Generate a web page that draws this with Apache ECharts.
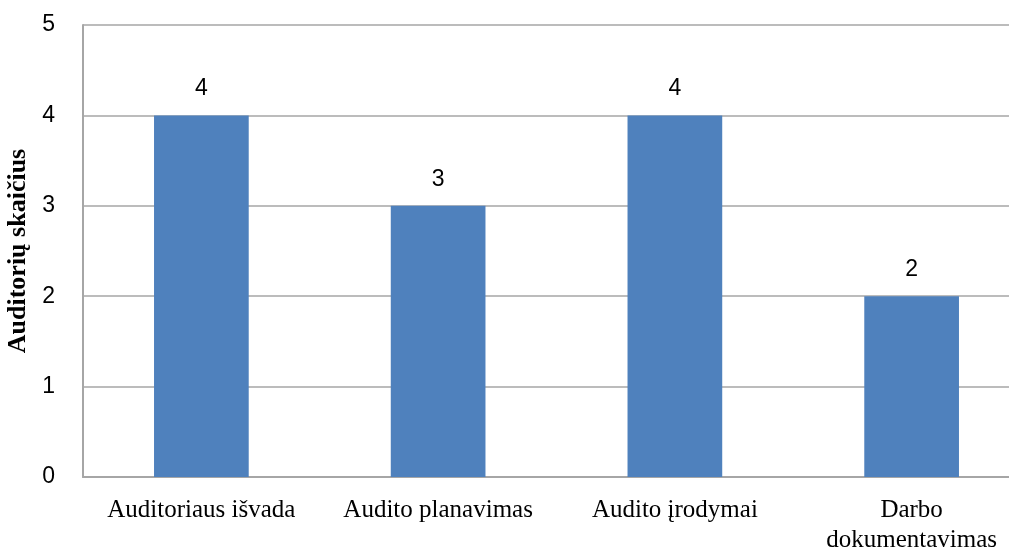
<!DOCTYPE html>
<html lang="lt">
<head>
    <meta charset="UTF-8">
    <title>Auditorių skaičius</title>
    <script src="https://cdn.jsdelivr.net/npm/echarts@6/dist/echarts.min.js"></script>
    <style>
        html, body { margin: 0; padding: 0; background: #fff; }
        #chart { width: 1009px; height: 549px; }
    </style>
</head>
<body>
    <div id="chart"></div>
    <script>
        // duomenys
        var categories = ['Auditoriaus išvada', 'Audito planavimas', 'Audito įrodymai', 'Darbo\ndokumentavimas'];
        var values = [4, 3, 4, 2];
        var yAxisName = 'Auditorių skaičius';

        var myChart = echarts.init(document.getElementById('chart'));

        // originalus grafikas apkirptas dešinėje, todėl right < 0
        var option = {
            animation: false,
            grid: { left: 83, right: -21, top: 25, bottom: 72, outerBoundsMode: 'none', containLabel: false },
            xAxis: {
                type: 'category',
                data: categories,
                axisLine: { lineStyle: { color: '#a6a6a6', width: 2 } },
                axisTick: { show: false },
                axisLabel: {
                    color: '#000',
                    fontFamily: 'Liberation Serif',
                    fontSize: 25,
                    lineHeight: 30,
                    margin: 18,
                    interval: 0
                }
            },
            yAxis: {
                type: 'value',
                min: 0,
                max: 5,
                interval: 1,
                name: yAxisName,
                nameLocation: 'middle',
                nameGap: 49,
                nameTextStyle: {
                    color: '#000',
                    fontFamily: 'Liberation Serif',
                    fontWeight: 'bold',
                    fontSize: 26
                },
                axisLine: { show: true, lineStyle: { color: '#a6a6a6', width: 2 } },
                axisTick: { show: false },
                splitLine: { lineStyle: { color: '#a6a6a6', width: 1.5 } },
                axisLabel: {
                    color: '#000',
                    fontFamily: 'Liberation Sans',
                    fontSize: 23,
                    margin: 28
                }
            },
            series: [{
                type: 'bar',
                data: values,
                barWidth: '40%',
                itemStyle: { color: '#4f81bd' },
                label: {
                    show: true,
                    position: 'top',
                    distance: 15,
                    color: '#000',
                    fontFamily: 'Liberation Sans',
                    fontSize: 23
                }
            }]
        };

        myChart.setOption(option);
    </script>
</body>
</html>
